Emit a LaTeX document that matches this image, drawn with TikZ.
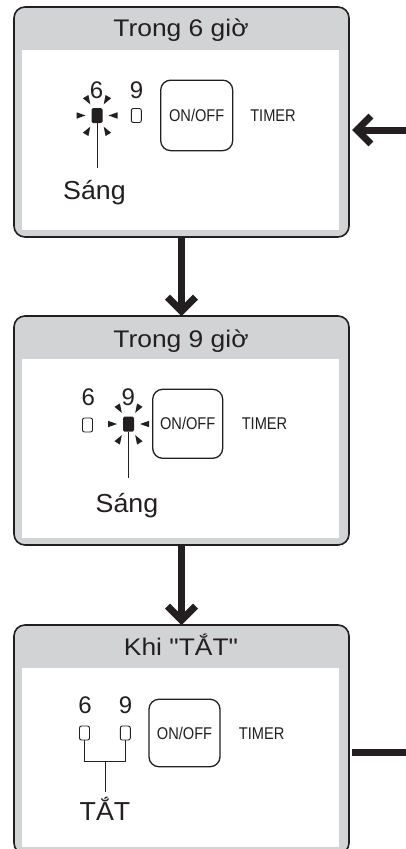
\documentclass[tikz,border=0pt]{standalone}
\usepackage{fontspec}
\setmainfont{Liberation Sans}
\newfontfamily\widefont[FakeStretch=1.1]{Liberation Sans}
\newfontfamily\labfont[FakeStretch=1.03]{Liberation Sans}
\newfontfamily\narrowfont[FakeStretch=0.86]{Liberation Sans}
\usetikzlibrary{calc}
\definecolor{panelgray}{HTML}{D1D3D4}
\definecolor{ink}{HTML}{231F20}
\begin{document}
\begin{tikzpicture}[x=1pt,y=-1pt,
  panel/.style={draw=ink, line width=1.6pt, fill=panelgray, rounded corners=11pt,
    minimum width=335pt, inner sep=0pt, outer sep=0pt},
  titletext/.style={text=ink, inner sep=0pt, font=\widefont\fontsize{24}{24}\selectfont},
  biglabel/.style={text=ink, inner sep=0pt, font=\labfont\fontsize{26}{26}\selectfont},
  digit/.style={text=ink, inner sep=0pt, font=\fontsize{24}{24}\selectfont},
  smalltext/.style={text=ink, inner sep=0pt, font=\narrowfont\fontsize{17}{17}\selectfont},
  btn/.style={draw=ink, line width=1.3pt, rounded corners=10pt, text=ink,
    minimum width=71pt, minimum height=69pt, inner sep=0pt,
    font=\narrowfont\fontsize{17}{17}\selectfont},
  ledon/.style={fill=ink, rounded corners=1.5pt, minimum width=11pt, minimum height=15pt, inner sep=0pt},
  ledoff/.style={draw=ink, line width=0.9pt, fill=white, rounded corners=2pt,
    minimum width=10pt, minimum height=14pt, inner sep=0pt},
  thinl/.style={draw=ink, line width=0.9pt},
  fat/.style={draw=ink, line width=7pt},
  chevron/.style={draw=ink, line width=7pt, line join=miter, miter limit=10},
  pics/rays/.style={code={
    \foreach \a/\rt/\rb in {0/11.5/20.5,180/11.5/20.5,59/13/22,121/13/22,239/13/22,301/13/22}
      \fill[ink, rotate=\a] (\rt,0) -- (\rb,3.2) -- (\rb,-3.2) -- cycle;
  }}
]
\clip (0,0) rectangle (406,849);
\fill[white] (0,0) rectangle (406,849);

% panels
\node[panel, minimum height=230pt] (p1) at (181.5,122) {};
\fill[white] (22,50) rectangle (339,230);
\node[panel, minimum height=229pt] (p2) at (181.5,430.5) {};
\fill[white] (22,359) rectangle (339,538);
\node[panel, minimum height=229pt] (p3) at (181.5,739.5) {};
\fill[white] (22,668) rectangle (339,847);

% titles
\node[titletext, anchor=base] (t1) at (181,36.7) {Trong 6 giờ};
\node[titletext, anchor=base] (t2) at (181,347) {Trong 9 giờ};
\node[titletext, anchor=base] (t3) at (181,655) {Khi "TẮT"};

% panel 1
\node[digit, anchor=base] (d16) at (96.5,98.5) {6};
\node[digit, anchor=base] (d19) at (136.5,98.5) {9};
\node[ledon] (l16) at (97,115.5) {};
\pic at (l16) {rays};
\node[ledoff] (l19) at (136.3,115.5) {};
\node[btn, minimum width=72pt, minimum height=70.5pt] (b1) at (196.7,115.4) {ON/OFF};
\node[smalltext] (tm1) at (273,116) {TIMER};
\coordinate (e1) at (97,168);
\draw[thinl] (l16.south) -- (e1);
\node[biglabel, anchor=base] (s1) at (94.5,199) {Sáng};

% panel 2
\node[digit, anchor=base] (d26) at (88.3,405) {6};
\node[digit, anchor=base] (d29) at (128.3,405) {9};
\node[ledoff] (l26) at (87.5,425) {};
\node[ledon] (l29) at (128.5,424) {};
\pic at (l29) {rays};
\node[btn, minimum width=70pt, minimum height=69pt] (b2) at (187.7,423.8) {ON/OFF};
\node[smalltext] (tm2) at (264.5,424) {TIMER};
\coordinate (e2) at (128.5,478.3);
\draw[thinl] (l29.south) -- (e2);
\node[biglabel, anchor=base] (s2) at (127,512) {Sáng};

% panel 3
\node[digit, anchor=base] (d36) at (85,713.3) {6};
\node[digit, anchor=base] (d39) at (125.5,713.3) {9};
\node[ledoff] (l36) at (84.5,733) {};
\node[ledoff] (l39) at (125.3,733) {};
\node[btn, minimum width=71pt, minimum height=67.5pt] (b3) at (184.5,733) {ON/OFF};
\node[smalltext] (tm3) at (261.7,734) {TIMER};
\coordinate (j3) at (105,761);
\coordinate (e3) at (105,791.7);
\draw[thinl] (l36.south) |- (j3) -| (l39.south);
\draw[thinl] (j3) -- (e3);
\node[biglabel, anchor=base] (s3) at (105,820) {TẮT};

% arrows between panels
\draw[fat, shorten >=4.95pt] (p1.south) -- (p2.north);
\draw[chevron] ($(p2.north)+(-14,-18.95)$) -- ($(p2.north)+(0,-4.95)$) -- ($(p2.north)+(14,-18.95)$);
\draw[fat, shorten >=4.95pt] (p2.south) -- (p3.north);
\draw[chevron] ($(p3.north)+(-14,-18.95)$) -- ($(p3.north)+(0,-4.95)$) -- ($(p3.north)+(14,-18.95)$);

% incoming arrow on the right of panel 1
\coordinate (inR) at (406,130);
\coordinate (tipA) at (352,130);
\draw[fat, shorten >=4.95pt] (inR) -- (tipA);
\draw[chevron] ($(tipA)+(18.95,-14)$) -- ($(tipA)+(4.95,0)$) -- ($(tipA)+(18.95,14)$);

% outgoing line on the right of panel 3
\coordinate (outL) at (352,752);
\coordinate (outR) at (406,752);
\draw[fat] (outL) -- (outR);
\end{tikzpicture}
\end{document}
